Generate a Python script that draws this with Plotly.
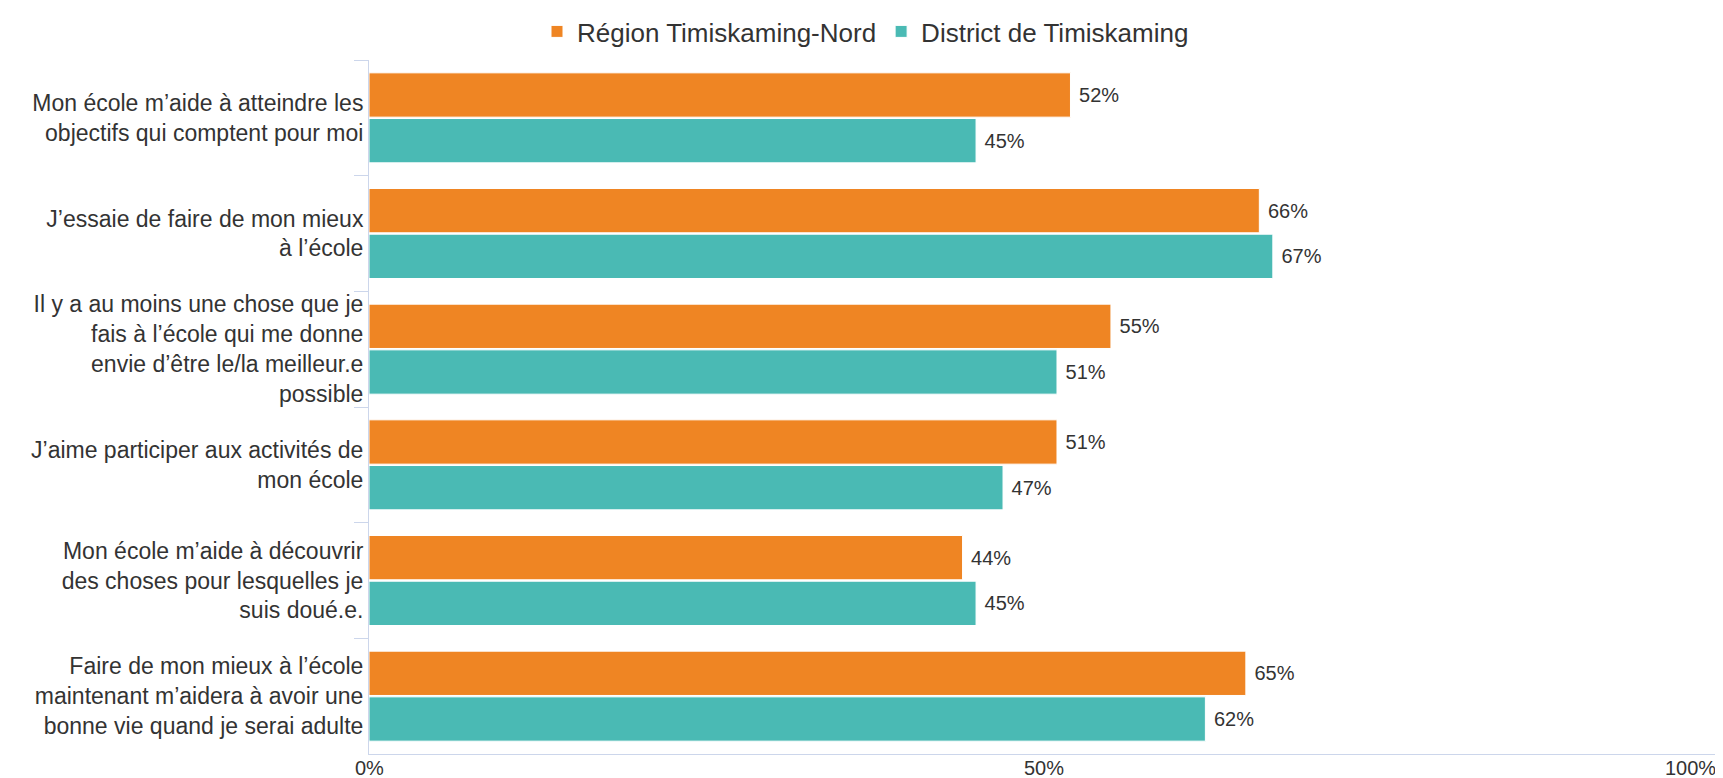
import plotly.graph_objects as go

categories = [
    "Mon école m’aide à atteindre les<br>objectifs qui comptent pour moi",
    "J’essaie de faire de mon mieux<br>à l’école",
    "Il y a au moins une chose que je<br>fais à l’école qui me donne<br>envie d’être le/la meilleur.e<br>possible",
    "J’aime participer aux activités de<br>mon école",
    "Mon école m’aide à découvrir<br>des choses pour lesquelles je<br>suis doué.e.",
    "Faire de mon mieux à l’école<br>maintenant m’aidera à avoir une<br>bonne vie quand je serai adulte",
]
region_name = "Région Timiskaming-Nord"
district_name = "District de Timiskaming"
region_values = [52, 66, 55, 51, 44, 65]
district_values = [45, 67, 51, 47, 45, 62]
tick_values = [0, 50, 100]
tick_labels = ["0%", "50%", "100%"]

ORANGE = "#EF8523"
TEAL = "#4ABAB4"
TXT = "#333333"
AXIS = "#ccd6eb"
FONT = "Arial, Liberation Sans, Helvetica, sans-serif"

fig = go.Figure()
for name, vals, col in [(region_name, region_values, ORANGE), (district_name, district_values, TEAL)]:
    fig.add_trace(go.Bar(
        y=categories, x=vals, name=name, orientation="h",
        marker=dict(color=col, line=dict(color="white", width=1)),
        text=vals, texttemplate=" %{x}%", textposition="outside",
        textfont=dict(size=20, color=TXT, family=FONT),
        cliponaxis=False,
    ))

fig.update_layout(
    width=1715, height=770,
    margin=dict(l=361, r=5, t=52, b=24),
    paper_bgcolor="white", plot_bgcolor="white",
    barmode="group", bargap=0.21, bargroupgap=0.03,
    font=dict(family=FONT, color=TXT),
    showlegend=True,
    legend=dict(orientation="h", x=0.5, xanchor="center", xref="container",
                y=1.0, yref="container", yanchor="top",
                font=dict(size=26, color=TXT), itemwidth=30,
                traceorder="normal", tracegroupgap=0),
    xaxis=dict(range=[0, 100], showgrid=False, zeroline=False,
               showline=True, linecolor=AXIS, linewidth=1,
               tickvals=tick_values, showticklabels=False, ticks=""),
    yaxis=dict(autorange="reversed", showline=True, linecolor=AXIS, linewidth=1,
               ticks="outside", tickson="boundaries", ticklen=14, tickcolor=AXIS,
               tickfont=dict(size=23, color=TXT), showgrid=False, zeroline=False),
)

for v, lab in zip(tick_values, tick_labels):
    anchor = "center"
    if v == tick_values[-1]:
        anchor = "right"
    fig.add_annotation(x=v, y=0, xref="x", yref="paper", text=lab, showarrow=False,
                       xanchor=anchor, yanchor="top", yshift=-1,
                       font=dict(size=20, color=TXT, family=FONT))

fig.write_html("out.html")
